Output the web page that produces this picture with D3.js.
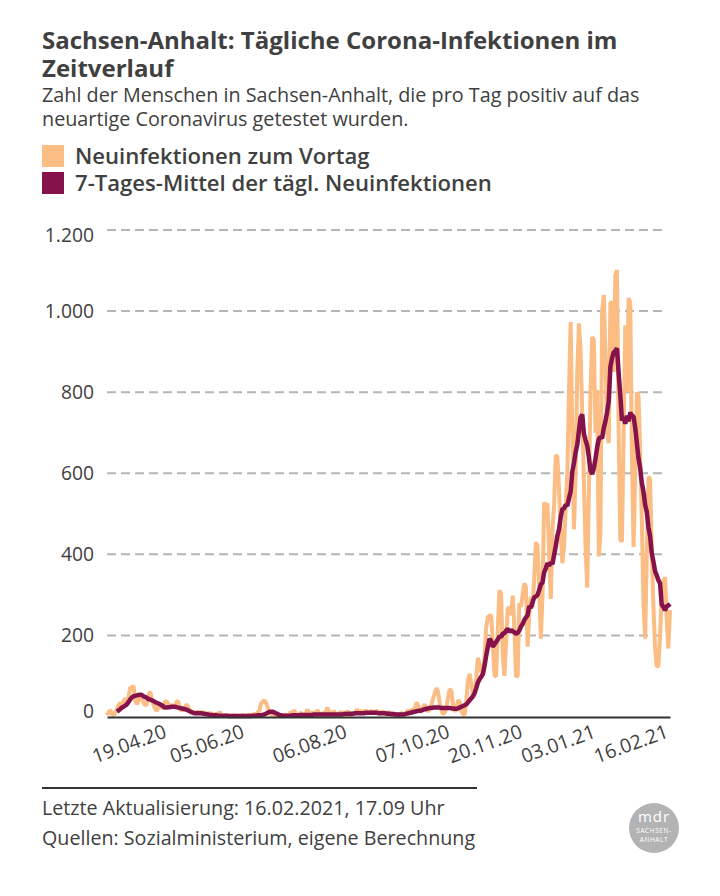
<!DOCTYPE html>
<html lang="de">
<head>
<meta charset="utf-8">
<script src="https://cdn.jsdelivr.net/npm/d3@7"></script>
<style>
  body { margin: 0; background: #fff; }
  text { font-family: "Open Sans", sans-serif; fill: #404040; }
</style>
</head>
<body>
<script>
// Daily new infections, one value per day from 13.03.2020 to 16.02.2021
var daily = [
  3,10,16,6,2,10,18,28,34,22,
  38,45,30,48,72,70,76,42,30,38,
  52,48,35,28,30,50,62,44,30,20,
  14,22,30,20,25,36,38,30,25,28,
  26,24,36,38,20,14,18,22,30,24,
  14,8,12,10,9,12,10,8,12,7,
  8,5,10,4,6,3,8,4,12,3,
  2,1,4,3,2,1,2,3,1,2,
  1,2,3,2,1,3,5,2,4,6,
  6,10,14,32,36,40,34,22,12,6,
  3,2,1,2,3,1,2,3,5,2,
  3,12,4,16,6,2,4,10,5,3,
  4,18,5,4,12,3,6,16,9,4,
  6,10,5,22,12,8,4,14,7,5,
  6,12,8,10,5,14,8,3,6,10,
  8,18,10,12,14,8,16,10,7,12,
  14,8,11,15,9,6,13,10,4,8,
  12,6,3,9,4,7,2,5,10,3,
  5,11,16,8,18,14,20,35,26,14,
  12,24,30,18,12,22,30,45,58,70,
  60,30,14,6,10,22,48,68,62,28,
  12,18,40,36,14,6,4,40,90,105,
  80,50,55,95,145,130,110,100,150,220,
  245,248,250,180,100,100,220,311,303,150,
  100,180,265,270,250,298,220,98,100,280,
  270,300,328,320,172,250,295,270,340,430,
  420,320,192,300,528,520,525,400,290,460,
  520,645,640,560,450,378,420,520,600,800,
  973,700,462,600,850,970,900,750,580,420,
  318,550,800,936,930,700,805,395,450,1000,
  1040,900,700,674,1020,1022,850,1090,1101,700,
  435,432,700,965,800,1032,1020,650,418,600,
  800,790,650,480,280,192,400,592,585,400,
  270,170,123,125,200,300,335,343,240,168,
  262
];

// 7-day mean, starts on 19.03.2020
var mean = [
  12,15,18,22,
  24,27,30,36,42,47,50,51,52,53,
  54,53,50,48,46,43,42,40,38,36,
  34,32,30,28,25,22,22,23,23,24,
  24,24,23,22,21,20,19,18,17,15,
  13,11,9,8,8,8,8,8,7,6,
  6,5,4,4,3,3,3,2,2,2,
  2,2,2,1,1,1,1,1,1,1,
  1,1,1,1,1,1,1,1,2,2,
  2,3,3,3,4,5,7,9,11,12,
  12,10,8,6,4,3,2,2,2,2,
  2,2,3,3,3,3,3,4,4,4,
  4,4,4,4,4,5,5,5,5,5,
  5,5,5,5,5,5,5,5,5,5,
  5,5,5,6,6,6,7,7,7,7,
  8,8,8,8,8,8,9,9,9,9,
  9,9,9,9,8,8,8,8,8,7,
  7,7,6,6,5,5,5,5,5,5,
  6,7,8,9,10,11,12,13,14,14,
  15,17,18,19,20,21,21,22,22,22,
  22,22,21,21,21,21,21,21,20,20,
  19,19,20,22,24,26,28,30,35,40,
  45,50,58,70,84,92,98,105,125,150,
  172,192,186,172,178,184,190,198,196,205,
  205,212,216,209,213,210,208,204,206,212,
  222,228,238,244,250,272,268,282,294,296,
  300,312,326,330,356,365,378,372,380,376,
  398,420,446,462,492,512,513,522,520,538,
  555,604,625,652,670,705,738,745,698,682,
  668,640,606,598,612,636,664,684,690,686,
  712,728,750,778,862,884,898,902,908,846,
  792,730,738,722,742,728,750,742,740,712,
  674,636,612,576,554,522,504,466,444,402,
  382,358,348,336,328,276,270,262,272,274,
  278
];

var yTicks = [0, 200, 400, 600, 800, 1000, 1200];
var xTickLabels = ["19.04.20", "05.06.20", "06.08.20", "07.10.20", "20.11.20", "03.01.21", "16.02.21"];
var titleLines = ["Sachsen-Anhalt: Tägliche Corona-Infektionen im", "Zeitverlauf"];
var subtitleLines = ["Zahl der Menschen in Sachsen-Anhalt, die pro Tag positiv auf das", "neuartige Coronavirus getestet wurden."];
var legendLabels = ["Neuinfektionen zum Vortag", "7-Tages-Mittel der tägl. Neuinfektionen"];
var footerLines = ["Letzte Aktualisierung: 16.02.2021, 17.09 Uhr", "Quellen: Sozialministerium, eigene Berechnung"];

var orange = "#fbbd83";
var purple = "#85124a";

var parseDate = d3.timeParse("%d.%m.%y");
var startDaily = parseDate("13.03.20");
var startMean = parseDate("19.03.20");

var svg = d3.select("body")
  .append("svg")
  .attr("width", 720)
  .attr("height", 896);

var x = d3.scaleTime()
  .domain([startDaily, parseDate("16.02.21")])
  .range([107, 670]);

var y = d3.scaleLinear()
  .domain([0, 1200])
  .range([716.5, 230]);

// headings
svg.selectAll(".title")
  .data(titleLines)
  .enter()
  .append("text")
  .attr("x", 42)
  .attr("y", function (d, i) { return 49 + i * 28; })
  .style("font-size", "24px")
  .style("font-weight", 700)
  .text(function (d) { return d; });

svg.selectAll(".subtitle")
  .data(subtitleLines)
  .enter()
  .append("text")
  .attr("x", 42)
  .attr("y", function (d, i) { return 102 + i * 24; })
  .style("font-size", "19.8px")
  .text(function (d) { return d; });

// legend
var legend = svg.selectAll(".legend")
  .data(legendLabels)
  .enter()
  .append("g")
  .attr("transform", function (d, i) { return "translate(42," + (145 + i * 27) + ")"; });

legend.append("rect")
  .attr("width", 22)
  .attr("height", 22)
  .style("fill", function (d, i) { return i === 0 ? orange : purple; });

legend.append("text")
  .attr("x", 33)
  .attr("y", 19)
  .style("font-size", "22.1px")
  .style("font-weight", 600)
  .text(function (d) { return d; });

// gridlines
svg.selectAll(".grid")
  .data(yTicks.filter(function (d) { return d > 0; }))
  .enter()
  .append("line")
  .attr("x1", 107)
  .attr("x2", 667)
  .attr("y1", function (d) { return y(d); })
  .attr("y2", function (d) { return y(d); })
  .style("stroke", "#b5b5b5")
  .style("stroke-width", 2)
  .style("stroke-dasharray", "9,5");

// y axis labels, the outer two are nudged towards the plot like in the original
var yAxis = svg.append("g")
  .attr("transform", "translate(94,0)")
  .call(d3.axisLeft(y)
    .tickValues(yTicks)
    .tickSize(0)
    .tickPadding(0)
    .tickFormat(function (d) { return d3.format(",")(d).replace(",", "."); }));

yAxis.select(".domain").remove();
yAxis.selectAll("text")
  .style("font-family", null)
  .style("font-size", "19.3px")
  .attr("dy", function (d) { return d === 1200 ? "0.6em" : d === 0 ? "0.05em" : "0.32em"; });

// series
var dailyLine = d3.line()
  .x(function (d, i) { return x(d3.timeDay.offset(startDaily, i)); })
  .y(function (d) { return y(d); });

var meanLine = d3.line()
  .x(function (d, i) { return x(d3.timeDay.offset(startMean, i)); })
  .y(function (d) { return y(d); });

svg.append("path")
  .attr("d", dailyLine(daily))
  .style("fill", "none")
  .style("stroke", orange)
  .style("stroke-width", 4)
  .style("stroke-linejoin", "bevel");

svg.append("path")
  .attr("d", meanLine(mean))
  .style("fill", "none")
  .style("stroke", purple)
  .style("stroke-width", 4.5)
  .style("stroke-linejoin", "bevel");

// x axis
var xAxis = svg.append("g")
  .attr("transform", "translate(0,717)")
  .call(d3.axisBottom(x)
    .tickValues(xTickLabels.map(parseDate))
    .tickSize(0)
    .tickFormat(d3.timeFormat("%d.%m.%y")));

xAxis.select(".domain")
  .style("stroke", "#333")
  .style("stroke-width", 2);

xAxis.selectAll("text")
  .style("font-family", null)
  .style("font-size", "19.5px")
  .style("text-anchor", "end")
  .attr("x", 0)
  .attr("y", 0)
  .attr("dy", 0)
  .attr("transform", "translate(-1,20) rotate(-20)");

// footer
svg.append("line")
  .attr("x1", 42)
  .attr("x2", 477)
  .attr("y1", 788)
  .attr("y2", 788)
  .style("stroke", "#333")
  .style("stroke-width", 2);

svg.selectAll(".footer")
  .data(footerLines)
  .enter()
  .append("text")
  .attr("x", 42)
  .attr("y", function (d, i) { return 815 + i * 30; })
  .style("font-size", "19.7px")
  .text(function (d) { return d; });

// logo
var logo = svg.append("g").attr("transform", "translate(654,828)");

logo.append("circle")
  .attr("r", 25)
  .style("fill", "#b3b3b3");

logo.append("text")
  .attr("y", -6)
  .attr("text-anchor", "middle")
  .style("font-size", "15px")
  .style("font-weight", 400)
  .style("letter-spacing", "1px")
  .style("fill", "#fff")
  .text("mdr");

logo.append("text")
  .attr("y", 5)
  .attr("text-anchor", "middle")
  .style("font-size", "6.5px")
  .style("letter-spacing", "0.6px")
  .style("fill", "#fff")
  .text("SACHSEN-");

logo.append("text")
  .attr("y", 14)
  .attr("text-anchor", "middle")
  .style("font-size", "6.5px")
  .style("letter-spacing", "0.6px")
  .style("fill", "#fff")
  .text("ANHALT");
</script>
</body>
</html>
